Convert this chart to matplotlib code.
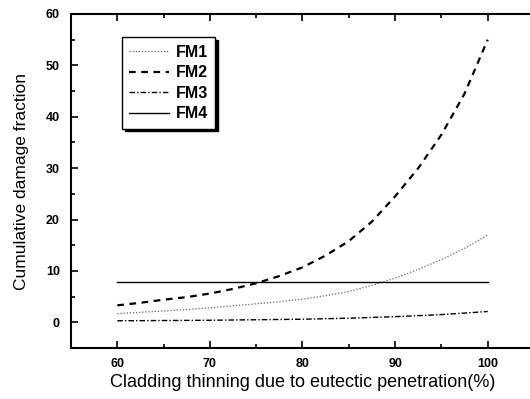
import matplotlib
matplotlib.use("Agg")
import matplotlib.pyplot as plt
from matplotlib.ticker import MultipleLocator

plt.rcParams['font.family'] = ['Liberation Sans', 'DejaVu Sans']

thinning = [60, 62.5, 65, 67.5, 70, 72.5, 75, 77.5, 80, 82.5, 85, 87.5, 90, 92.5, 95, 97.5, 100]
fm1 = [1.7, 1.95, 2.2, 2.5, 2.8, 3.2, 3.6, 4.0, 4.5, 5.2, 6.0, 7.2, 8.6, 10.3, 12.2, 14.4, 17.0]
fm2 = [3.3, 3.8, 4.4, 4.9, 5.6, 6.5, 7.6, 9.0, 10.7, 13.0, 15.8, 19.6, 24.5, 30.0, 36.5, 44.5, 55.0]
fm3 = [0.3, 0.32, 0.35, 0.37, 0.4, 0.45, 0.5, 0.55, 0.6, 0.7, 0.8, 0.95, 1.1, 1.3, 1.5, 1.8, 2.1]
fm4 = [7.8] * 17
labels = ["FM1", "FM2", "FM3", "FM4"]

fig = plt.figure(figsize=(5.30, 3.99), dpi=100)
ax = fig.add_axes([71/530, 1-348/399, (534-71)/530, (348-14)/399])

ax.plot(thinning, fm1, color='#666666', lw=0.9, linestyle=(0, (1, 1.5)), label=labels[0])
ax.plot(thinning, fm2, color='black', lw=1.6, linestyle=(0, (3, 2.5)), label=labels[1])
ax.plot(thinning, fm3, color='black', lw=1.0, linestyle=(0, (4, 1.5, 1, 1.5)), label=labels[2])
ax.plot(thinning, fm4, color='black', lw=1.0, linestyle='-', label=labels[3])

ax.set_xlim(55, 105)
ax.set_ylim(-5, 60)
ax.xaxis.set_major_locator(MultipleLocator(10))
ax.xaxis.set_minor_locator(MultipleLocator(5))
ax.yaxis.set_major_locator(MultipleLocator(10))
ax.yaxis.set_minor_locator(MultipleLocator(5))
ax.tick_params(which='both', direction='in', top=True, right=False, width=1.2)
ax.tick_params(which='major', length=5, labelsize=9)
ax.tick_params(axis='x', which='major', pad=7)
ax.tick_params(axis='y', which='major', pad=8)
ax.tick_params(which='minor', length=3)
for lbl in ax.get_xticklabels() + ax.get_yticklabels():
    lbl.set_fontweight('bold')
for s in ax.spines.values():
    s.set_linewidth(1.5)
ax.spines['right'].set_visible(False)

ax.set_xlabel("Cladding thinning due to eutectic penetration(%)", fontsize=13, labelpad=3)
ax.set_ylabel("Cumulative damage fraction", fontsize=12.5, labelpad=12)

leg = ax.legend(loc='upper left', bbox_to_anchor=(0.11, 0.93), frameon=True, fancybox=False,
                shadow={'color': 'black', 'alpha': 1.0}, edgecolor='black', fontsize=11.5,
                handlelength=2.5, handletextpad=0.4, labelspacing=0.35, borderpad=0.45,
                borderaxespad=0)
leg.get_frame().set_linewidth(1.0)
for t in leg.get_texts():
    t.set_fontweight('bold')

fig.savefig("out.png", dpi=100)
